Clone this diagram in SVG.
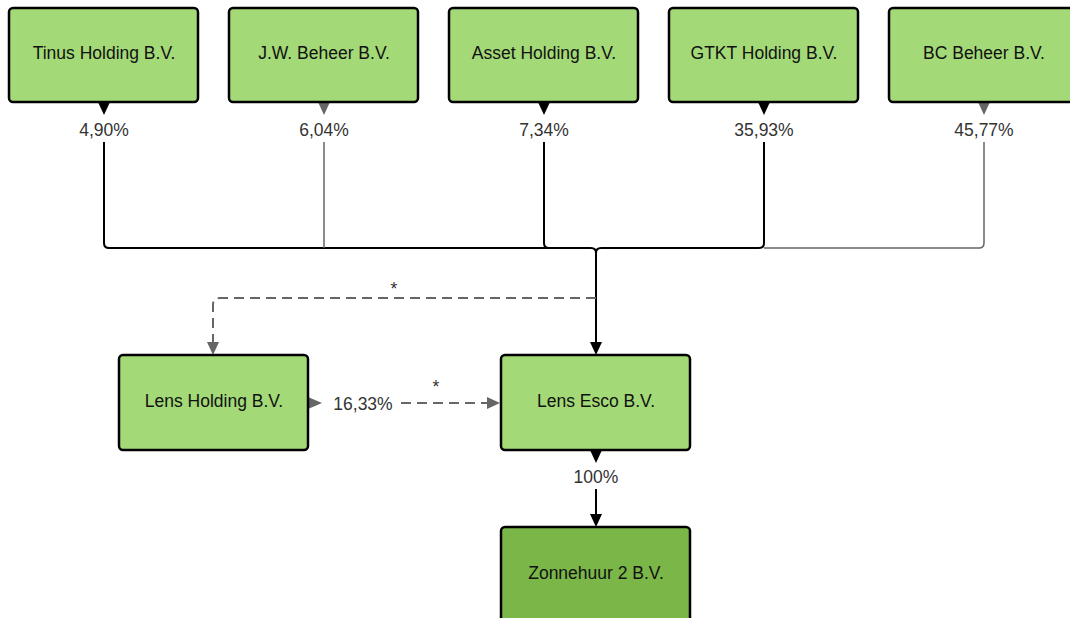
<svg xmlns="http://www.w3.org/2000/svg" width="1070" height="618" viewBox="0 0 1070 618">
<defs>
<style>
.box{fill:#a3d977;stroke:#000;stroke-width:2.5}
.dark{fill:#7ab648}
.t{font-family:"Liberation Sans",Arial,sans-serif;font-size:17.5px;fill:#111;text-anchor:middle;dominant-baseline:central}
.l{font-family:"Liberation Sans",Arial,sans-serif;font-size:17.5px;fill:#333;text-anchor:middle;dominant-baseline:central}
.k{fill:none;stroke:#000;stroke-width:2}
.g{fill:none;stroke:#666;stroke-width:1.5}
.d{fill:none;stroke:#666;stroke-width:2;stroke-dasharray:10,6}
</style>
</defs>
<rect width="1070" height="618" fill="#fff"/>
<g id="connectors">
<path class="k" d="M104,142V243Q104,248 109,248H591Q596,248 596,253V342" stroke-linejoin="round"/>
<path class="g" d="M324,142V248"/>
<path class="k" d="M544,142V243Q544,248 549,248H591"/>
<path class="k" d="M764,142V243Q764,248 759,248H601Q596,248 596,253"/>
<path class="g" d="M984,142V243Q984,248 979,248H764"/>
<polygon points="590,342 602,342 596,355" fill="#000"/>
<path class="d" d="M596,298H220Q213,298 213,305V342"/>
<polygon points="207,342 219,342 213,355" fill="#666"/>
<path class="d" d="M401,403H488"/>
<polygon points="487,397 487,409 500,403" fill="#666"/>
<path class="k" d="M596,489V514"/>
<polygon points="590,514 602,514 596,527" fill="#000"/>
<polygon points="98,102 110,102 104,115" fill="#000"/>
<polygon points="318,102 330,102 324,115" fill="#666"/>
<polygon points="538,102 550,102 544,115" fill="#000"/>
<polygon points="758,102 770,102 764,115" fill="#000"/>
<polygon points="978,102 990,102 984,115" fill="#666"/>
<polygon points="308,397 308,409 322,403" fill="#666"/>
<polygon points="590,450 602,450 596,463" fill="#000"/>
<text class="l" x="104" y="130">4,90%</text>
<text class="l" x="324" y="130">6,04%</text>
<text class="l" x="544" y="130">7,34%</text>
<text class="l" x="764" y="130">35,93%</text>
<text class="l" x="984" y="130">45,77%</text>
<text class="l" x="394" y="289">*</text>
<text class="l" x="436" y="387">*</text>
<text class="l" x="363" y="404">16,33%</text>
<text class="l" x="596" y="477">100%</text>
</g>
<g id="n1"><rect class="box" x="9" y="8" width="189" height="94" rx="4"/><text class="t" x="104" y="53">Tinus Holding B.V.</text></g>
<g id="n2"><rect class="box" x="229" y="8" width="189" height="94" rx="4"/><text class="t" x="324" y="53">J.W. Beheer B.V.</text></g>
<g id="n3"><rect class="box" x="449" y="8" width="189" height="94" rx="4"/><text class="t" x="544" y="53">Asset Holding B.V.</text></g>
<g id="n4"><rect class="box" x="669" y="8" width="189" height="94" rx="4"/><text class="t" x="764" y="53">GTKT Holding B.V.</text></g>
<g id="n5"><rect class="box" x="889" y="8" width="189" height="94" rx="4"/><text class="t" x="984" y="53">BC Beheer B.V.</text></g>
<g id="n6"><rect class="box" x="119" y="355" width="189" height="95" rx="4"/><text class="t" x="214" y="401">Lens Holding B.V.</text></g>
<g id="n7"><rect class="box" x="501" y="355" width="189" height="95" rx="4"/><text class="t" x="596" y="401">Lens Esco B.V.</text></g>
<g id="n8"><rect class="box dark" x="501" y="527" width="189" height="100" rx="4"/><text class="t" x="596" y="573">Zonnehuur 2 B.V.</text></g>
</svg>
